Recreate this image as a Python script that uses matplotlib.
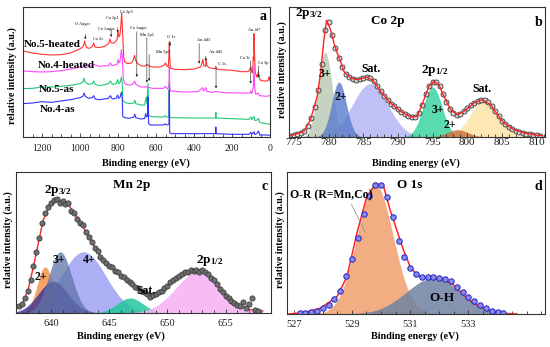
import numpy as np
import matplotlib
matplotlib.use('Agg')
import matplotlib.pyplot as plt
from matplotlib.ticker import MultipleLocator, FixedLocator

plt.rcParams['font.family'] = ['Liberation Serif', 'DejaVu Serif']
plt.rcParams['mathtext.fontset'] = 'custom'
plt.rcParams['mathtext.rm'] = 'Liberation Serif:bold'
plt.rcParams['mathtext.it'] = 'Liberation Serif:bold'
plt.rcParams['mathtext.bf'] = 'Liberation Serif:bold'

# ---------------- Panel a: survey spectra (binding energy, relative height) ----------------
red_E = [1300, 1250, 1200, 1150, 1100, 1050, 1010, 990, 980, 976, 972, 965, 950, 935, 928, 922, 900, 870,
         850, 842, 836, 820, 805, 800, 796, 790, 784, 781, 778, 774, 770, 765, 750, 730, 720, 713, 708,
         700, 680, 660, 652, 645, 640, 620, 580, 560, 550, 544, 535, 531, 530, 528, 524, 500, 450, 400,
         365, 356, 353, 349, 340, 336, 332, 320, 300, 288, 285, 281, 250, 200, 150, 115, 104, 101, 97,
         92, 88, 86, 84, 82, 78, 70, 64, 61, 57, 50, 30, 15, 8, 5, 3, 0]
red_h = [258, 252, 248, 246, 247, 252, 262, 268, 276, 288, 278, 268, 266, 272, 282, 270, 268, 272,
         280, 294, 282, 282, 292, 318, 300, 306, 340, 372, 345, 290, 240, 226, 220, 222, 230, 245, 232,
         222, 214, 212, 216, 218, 214, 210, 210, 214, 222, 214, 210, 260, 285, 240, 206, 203, 202, 204,
         210, 226, 232, 214, 212, 232, 214, 208, 205, 205, 212, 204, 202, 200, 196, 196, 205, 210, 196,
         192, 240, 230, 310, 260, 195, 180, 188, 196, 180, 170, 168, 168, 172, 180, 172, 168]

mag_E = [1300, 1250, 1200, 1150, 1100, 1050, 1000, 980, 976, 970, 930, 926, 900, 850, 840, 830, 805, 800,
         795, 790, 782, 778, 772, 765, 740, 718, 713, 706, 680, 645, 620, 560, 550, 540, 532, 530, 528,
         524, 450, 380, 354, 350, 337, 333, 300, 285, 250, 150, 105, 101, 95, 88, 84, 81, 75, 62, 55,
         20, 5, 0]
mag_h = [198, 196, 195, 196, 199, 204, 210, 214, 222, 212, 214, 218, 212, 214, 222, 214, 218, 232,
         222, 225, 262, 245, 175, 160, 155, 160, 168, 158, 150, 150, 146, 146, 152, 144, 150, 210, 160,
         138, 135, 136, 148, 138, 148, 137, 134, 137, 133, 132, 132, 138, 130, 150, 215, 150, 128, 132, 124,
         122, 124, 122]

grn_E = [1300, 1250, 1200, 1150, 1100, 1050, 1000, 985, 978, 972, 955, 935, 928, 920, 900, 880, 850, 840,
         830, 810, 802, 797, 790, 782, 778, 775, 765, 740, 716, 712, 706, 680, 660, 652, 648, 642, 639,
         630, 600, 560, 552, 545, 532, 530, 528, 520, 400, 300, 287, 285, 283, 200, 110, 100, 95, 84, 80,
         70, 60, 55, 40, 20, 0]
grn_h = [145, 146, 150, 150, 152, 155, 160, 165, 176, 164, 158, 160, 168, 158, 154, 156, 160, 168,
         158, 160, 172, 160, 162, 180, 165, 110, 104, 100, 102, 110, 100, 96, 96, 120, 100, 160, 66,
         62, 60, 60, 64, 60, 62, 160, 60, 58, 57, 57, 57, 74, 57, 55, 53, 60, 52, 62, 50,
         50, 56, 44, 42, 40, 38]

blu_E = [1300, 1250, 1200, 1150, 1100, 1050, 1000, 985, 978, 972, 955, 935, 928, 920, 900, 850, 840, 830,
         810, 802, 797, 790, 782, 778, 775, 765, 740, 716, 712, 706, 680, 660, 654, 650, 645, 642, 639,
         630, 600, 560, 552, 545, 532, 530, 528, 520, 400, 300, 287, 285, 283, 200, 110, 100, 95, 84, 80,
         70, 60, 55, 20, 0]
blu_h = [100, 102, 106, 104, 108, 112, 118, 122, 132, 122, 116, 118, 124, 114, 112, 116, 124, 114,
         116, 126, 116, 118, 134, 120, 62, 58, 56, 60, 68, 58, 54, 55, 70, 60, 64, 120, 40,
         36, 36, 36, 40, 36, 38, 140, 12, 10, 10, 10, 10, 30, 10, 8, 8, 14, 8, 16, 8,
         10, 18, 6, 6, 5]

survey_names = ['No.5-heated', 'No.4-heated', 'No.5-as', 'No.4-as']
survey_colors = ['#ff3333', '#ff44ff', '#22c878', '#3333ff']
survey_label_E = [1295, 1221, 1216, 1210]
survey_label_h = [278, 213, 143, 83]

peak_labels = ['O Auger', 'Co 2s', 'Co Auger', 'Co 2p1', 'Co 2p3', 'Co Auger', 'Mn 2p1', 'Mn 2p3',
               'O 1s', 'Au 4d3', 'Au 4d5', 'C 1s', 'Co 3s', 'Au 4f7', 'Co 3p']
peak_text_E = [985, 907, 862, 827, 757, 695, 645, 564, 522, 350, 284, 254, 131, 84, 35]
peak_text_h = [338, 293, 325, 358, 376, 326, 305, 256, 301, 290, 256, 218, 236, 322, 223]
peak_arrow_E = [972, None, 836, 802, None, 701, 648, 636, 526, 373, 338, 284, 102, None, 61]
peak_arrow_top = [308, None, 320, 328, None, 316, 298, 248, 288, 280, 243, 208, 228, None, 213]
peak_arrow_bot = [293, None, 300, 313, None, 180, 163, 168, 273, 220, 228, 146, 160, None, 178]

# ---------------- Panel b: Co 2p ----------------
co_pt_E = [774.5 + 0.5 * i for i in range(73)]
co_pt_h = [3, 6, 9, 12, 19, 34, 58, 90, 140, 220, 320, 345, 305, 268, 238, 210, 190, 180, 175, 172,
           174, 178, 180, 177, 168, 152, 137, 124, 112, 100, 92, 83, 75, 69, 63, 60, 60, 72, 97, 128,
           153, 166, 164, 152, 130, 104, 85, 73, 67, 70, 77, 86, 96, 103, 108, 112, 111, 104, 93, 77,
           62, 48, 38, 30, 24, 19, 15, 12, 10, 8, 7, 5, 4]
co_fit_E = [774.5, 775.0, 776.44, 777.40, 778.37, 778.85, 779.33, 779.71, 780.29, 780.77, 781.25, 781.73,
            782.21, 783.17, 784.13, 785.58, 786.54, 787.50, 788.94, 790.38, 791.83, 792.79, 793.75,
            794.47, 795.19, 795.91, 796.63, 797.60, 798.56, 799.52, 800.96, 802.16, 803.37, 804.33,
            805.29, 806.73, 808.17, 810.10, 810.8]
co_fit_h = [4, 7, 17, 52, 122, 192, 292, 350, 322, 282, 252, 227, 197, 177, 172, 180, 167, 137, 102,
            77, 60, 62, 112, 152, 167, 157, 122, 82, 67, 77, 102, 112, 97, 67, 42, 22, 12, 5, 4]
co_comp_center = [786.0, 779.5, 781.5, 795.0, 802.5, 798.6]
co_comp_height = [160, 255, 165, 150, 110, 22]
co_comp_fwhm = [6.0, 2.4, 2.5, 3.2, 4.8, 3.5]
co_comp_color = ['#b0b2f4', '#b8c8b2', '#5a7ccc', '#2fd39b', '#fde3a2', '#c8703a']

# ---------------- Panel c: Mn 2p ----------------
mn_pt_E = [637.25 + 0.25 * i for i in range(83)]
mn_pt_h = [20, 28, 45, 66, 100, 140, 182, 225, 268, 300, 318, 330, 338, 342, 330, 335, 325, 328, 305,
           300, 282, 268, 262, 242, 228, 212, 196, 186, 168, 160, 150, 142, 138, 126, 122, 112, 108, 98,
           92, 86, 78, 74, 66, 62, 58, 48, 55, 56, 62, 66, 76, 82, 92, 98, 104, 112, 116, 124, 122, 128,
           126, 130, 124, 128, 122, 116, 106, 98, 86, 72, 62, 52, 45, 36, 30, 24, 20, 34, 14, 28, 44,
           10, 6]
mn_fit_E = [637.2, 637.63, 638.06, 638.49, 638.91, 639.34, 639.91, 640.49, 641.06, 641.63, 642.2, 642.77,
            643.34, 643.91, 644.49, 645.34, 646.2, 647.06, 647.91, 648.63, 649.34, 650.2, 651.06,
            651.91, 652.77, 653.34, 653.91, 654.49, 655.34, 656.2, 657.06, 658.2]
mn_fit_h = [18, 33, 73, 138, 208, 278, 323, 336, 333, 318, 288, 258, 223, 188, 158, 133, 108, 83, 63,
            50, 63, 88, 113, 126, 128, 123, 103, 73, 43, 23, 10, 6]
mn_comp_center = [642.8, 639.5, 640.2, 640.8, 646.8, 652.7]
mn_comp_height = [183, 138, 95, 183, 45, 124]
mn_comp_fwhm = [4.5, 1.6, 3.0, 2.3, 2.6, 4.6]
mn_comp_color = ['#a4a6f4', '#f59a55', '#3d2f95', '#5f73a8', '#20c89a', '#f7b0f5']
mn_comp_alpha = [0.9, 0.9, 0.8, 0.75, 0.85, 0.85]

# ---------------- Panel d: O 1s ----------------
o_pt_E = [527.2 + 0.2 * i for i in range(36)]
o_pt_h = [3, 4, 6, 10, 18, 28, 45, 70, 115, 165, 228, 300, 355, 388, 386, 352, 290, 220, 170, 138,
          120, 112, 110, 110, 108, 105, 98, 82, 66, 50, 40, 28, 18, 10, 5, 3]
o_fit_E = [526.83, 527.34, 527.91, 528.49, 528.83, 529.17, 529.51, 529.83, 530.09, 530.31, 530.54,
           530.77, 531.0, 531.23, 531.46, 531.8, 532.14, 532.49, 532.83, 533.17, 533.63, 534.2, 534.66]
o_fit_h = [0, 4, 17, 52, 112, 242, 352, 392, 382, 312, 252, 192, 142, 117, 107, 107, 102, 87, 57, 32,
           12, 2, 0]
o_comp_center = [529.8, 531.8]
o_comp_height = [387, 108]
o_comp_fwhm = [1.45, 2.2]
o_comp_color = ['#f0a06c', '#6f82a3']
o_ticks = [527, 529, 531, 533]


def peak(x, c, h, w):
    return h * np.exp(-4 * np.log(2) * (x - c) ** 2 / w ** 2)


fig = plt.figure(figsize=(5.5, 3.47), dpi=100)
W, H = 550.0, 347.0


def add_ax(l, t, r, b):
    return fig.add_axes([l / W, 1 - b / H, (r - l) / W, (b - t) / H])


axa = add_ax(23, 7, 270, 137)
axb = add_ax(289, 7, 545, 137)
axc = add_ax(16, 172, 271, 313)
axd = add_ax(287, 172, 545, 314)

for ax, ls in zip((axa, axb, axc, axd), (7, 8, 7.5, 7.5)):
    ax.set_yticks([])
    for s in ax.spines.values():
        s.set_linewidth(0.8)
        s.set_color('#333333')
    ax.tick_params(axis='x', which='both', direction='in', labelsize=ls, width=0.6, colors='#333333',
                   labelcolor='#222222')
    ax.tick_params(axis='x', which='major', length=3)
    ax.tick_params(axis='x', which='minor', length=2)

# ---- panel a
for E, h, col in zip([red_E, mag_E, grn_E, blu_E], [red_h, mag_h, grn_h, blu_h], survey_colors):
    axa.plot(E, h, color=col, lw=0.8)
axa.set_xlim(1300, 0)
axa.set_ylim(0, 390)
axa.xaxis.set_major_locator(MultipleLocator(200))
axa.xaxis.set_minor_locator(MultipleLocator(50))
axa.tick_params(axis='x', pad=5)
for name, x, y in zip(survey_names, survey_label_E, survey_label_h):
    axa.text(x, y, name, fontsize=8, fontweight='bold', ha='left', va='center')
for lab, tx, ty, ax_, at, ab in zip(peak_labels, peak_text_E, peak_text_h, peak_arrow_E,
                                    peak_arrow_top, peak_arrow_bot):
    axa.text(tx, ty, lab, fontsize=3.2, ha='center', va='center')
    if ax_ is not None:
        axa.annotate('', xy=(ax_, ab), xytext=(ax_, at),
                     arrowprops=dict(arrowstyle='-|>', lw=0.4, color='#222222', mutation_scale=3,
                                     shrinkA=0, shrinkB=0))
axa.text(0.985, 0.93, 'a', transform=axa.transAxes, fontsize=10, fontweight='bold', ha='right', va='center')

# ---- panel b
xb = np.linspace(774.3, 811.2, 800)
for c, h, w, col in zip(co_comp_center, co_comp_height, co_comp_fwhm, co_comp_color):
    axb.fill_between(xb, 0, peak(xb, c, h, w), color=col, alpha=0.8, lw=0)
axb.plot(co_pt_E, co_pt_h, 'o', ms=3.6, mfc='#d8d8d8', mec='#333333', mew=0.6)
axb.plot(co_fit_E, co_fit_h, color='#ff2222', lw=1.0)
axb.set_xlim(774.3, 811.2)
axb.set_ylim(0, 390)
axb.xaxis.set_major_locator(MultipleLocator(5))
axb.xaxis.set_minor_locator(MultipleLocator(1))
axb.tick_params(axis='x', pad=1)
bt = dict(fontweight='bold', ha='center', va='center')
axb.text(777.2, 370, r'2p$_{3/2}$', fontsize=9.5, **bt)
axb.text(788.5, 348, 'Co 2p', fontsize=9.5, **bt)
axb.text(0.975, 0.88, 'b', transform=axb.transAxes, fontsize=10, **bt)
axb.text(779.5, 190, '3+', fontsize=8.5, **bt)
axb.text(781.8, 120, '2+', fontsize=8.5, **bt)
axb.text(786.1, 205, 'Sat.', fontsize=8.5, **bt)
axb.text(795.3, 200, r'2p$_{1/2}$', fontsize=9.5, **bt)
axb.text(795.7, 82, '3+', fontsize=8.5, **bt)
axb.text(797.5, 36, '2+', fontsize=8.5, **bt)
axb.text(802.1, 145, 'Sat.', fontsize=8.5, **bt)

# ---- panel c
xc = np.linspace(637, 659, 800)
for c, h, w, col, al in zip(mn_comp_center, mn_comp_height, mn_comp_fwhm, mn_comp_color, mn_comp_alpha):
    axc.fill_between(xc, 0, peak(xc, c, h, w), color=col, alpha=al, lw=0)
axc.plot(mn_fit_E, mn_fit_h, color='#ff2222', lw=1.0)
axc.plot(mn_pt_E, mn_pt_h, 'o', ms=3.8, mfc='#6e6e6e', mec='#333333', mew=0.5)
axc.set_xlim(637, 658.9)
axc.set_ylim(0, 422)
axc.xaxis.set_major_locator(MultipleLocator(5))
axc.xaxis.set_minor_locator(MultipleLocator(1))
axc.tick_params(axis='x', pad=4)
axc.text(646.9, 383, 'Mn 2p', fontsize=9.5, **bt)
axc.text(0.975, 0.9, 'c', transform=axc.transAxes, fontsize=10, **bt)
axc.text(640.6, 368, r'2p$_{3/2}$', fontsize=9.5, **bt)
axc.text(639.1, 108, '2+', fontsize=8.5, **bt)
axc.text(640.7, 160, '3+', fontsize=8.5, **bt)
axc.text(643.3, 158, '4+', fontsize=8.5, **bt)
axc.text(648.2, 66, 'Sat.', fontsize=8.5, **bt)
axc.text(653.6, 158, r'2p$_{1/2}$', fontsize=9.5, **bt)

# ---- panel d
xd = np.linspace(526.7, 535.7, 800)
for c, h, w, col in zip(o_comp_center, o_comp_height, o_comp_fwhm, o_comp_color):
    axd.fill_between(xd, 0, peak(xd, c, h, w), color=col, alpha=0.85, lw=0)
axd.plot(o_fit_E, o_fit_h, color='#ff2222', lw=1.1)
axd.plot(o_pt_E, o_pt_h, 'o', ms=3.9, mfc='#8a8ae8', mec='#2020c8', mew=0.7)
axd.set_xlim(526.77, 535.63)
axd.set_ylim(0, 426)
axd.xaxis.set_major_locator(FixedLocator(o_ticks))
axd.xaxis.set_minor_locator(MultipleLocator(0.5))
axd.tick_params(axis='x', pad=4)
axd.text(531.0, 387, 'O 1s', fontsize=9.5, **bt)
axd.text(0.975, 0.9, 'd', transform=axd.transAxes, fontsize=10, **bt)
axd.text(528.3, 357, 'O-R (R=Mn,Co)', fontsize=8.5, **bt)
axd.annotate('', xy=(529.5, 237), xytext=(528.94, 337),
             arrowprops=dict(arrowstyle='-', lw=0.5, color='#888888'))
axd.text(532.1, 49, 'O-H', fontsize=9.5, **bt)

# labels
for x, y in [(146, 163), (416, 163), (121, 336), (415, 336)]:
    fig.text(x / W, 1 - y / H, 'Binding energy (eV)', fontsize=7.3, fontweight='bold', ha='center', va='center')
for x, y in [(12, 76), (282, 70), (8, 240), (280, 240)]:
    fig.text(x / W, 1 - y / H, 'relative intensity (a.u.)', fontsize=7.2, fontweight='bold',
             rotation=90, ha='center', va='center')

fig.savefig('out.png', dpi=100)
